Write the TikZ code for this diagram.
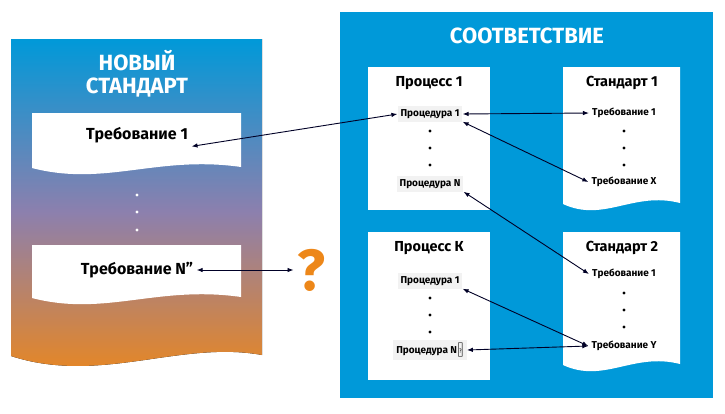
\documentclass[tikz,border=0pt]{standalone}
\usepackage{fontspec}
\setmainfont{Fira Sans}
\usetikzlibrary{arrows.meta}
\definecolor{panelblue}{rgb}{0.0, 0.60, 0.85}
\definecolor{qorange}{rgb}{0.93, 0.53, 0.10}
\definecolor{midpurple}{rgb}{0.55, 0.50, 0.68}

% page with wavy lower edge
\newcommand{\wavedoc}[5][white]{%
  \fill[#1] (#2,#3) -- (#4,#3) -- (#4,#5)
    .. controls ({#4-0.4*(#4-#2)},{#5-12}) and ({#2+0.35*(#4-#2)},{#5+20}) .. (#2,{#5+1}) -- cycle;}

\begin{document}
\begin{tikzpicture}[x=1pt,y=1pt,yscale=-1,
  title/.style={font=\bfseries\fontsize{14.5}{16}\selectfont},
  req/.style={font=\bfseries\fontsize{16}{18}\selectfont},
  proc/.style={font=\bfseries\fontsize{10}{12}\selectfont, fill=black!5, inner sep=3pt},
  dot/.style={circle, fill=#1, inner sep=0pt, minimum size=3.2pt},
  link/.style={{Latex[length=6pt]}-{Latex[length=6pt]}, line width=0.9pt, black!85!blue}]
		\useasboundingbox (0,0) rectangle (725,413);

		% Left panel (new standard)
		\fill[top color=panelblue, bottom color=qorange, middle color=midpurple, shading angle=0]
		(11,39) -- (262,39) -- (262,355)
		.. controls (180,340) and (100,385) .. (11,356) -- cycle;
		\node[white, font=\bfseries\fontsize{22}{23}\selectfont, align=center] (newstd) at (137,74) {НОВЫЙ\\СТАНДАРТ};
		\wavedoc{32}{113}{241}{167}
		\wavedoc{32}{245}{241}{297}
		\node[req] (nreq1) at (137,135) {Требование 1};
		\node[req] (nreqN) at (137,270) {Требование N”};
		\foreach \y in {195,212,230} \node[dot=white] at (137,\y) {};
		\node[qorange, font=\bfseries\fontsize{58}{58}\selectfont] (quest) at (311,270) {?};

		% Right panel (compliance)
		\fill[panelblue] (340,12) rectangle (713,398);
		\node[white, font=\bfseries\fontsize{22}{23}\selectfont] (match) at (527,36) {СООТВЕТСТВИЕ};

		% Process 1
		\fill[white] (368,67) rectangle (490,210);
		\node[title] (p1) at (429,83) {Процесс 1};
		\node[proc] (p1a) at (430,114) {Процедура 1};
		\node[proc] (p1n) at (430,184) {Процедура N};
		\foreach \y in {131,148,165} \node[dot=black] at (430,\y) {};

		% Process K
		\fill[white] (368,232) rectangle (490,380);
		\node[title] (pk) at (429,248) {Процесс К};
		\node[proc] (pka) at (430,281) {Процедура 1};
		\node[proc] (pkn) at (430,350) {Процедура N′};
		\foreach \y in {298,315,332} \node[dot=black] at (430,\y) {};

		% Standard 1
		\wavedoc{563}{67}{680}{203}
		\node[title] (s1) at (622,83) {Стандарт 1};
		\node[proc, fill=white] (s1a) at (624,113) {Требование 1};
		\node[proc, fill=white] (s1x) at (624,182) {Требование X};
		\foreach \y in {131,148,165} \node[dot=black] at (624,\y) {};

		% Standard 2
		\wavedoc{563}{232}{680}{364}
		\node[title] (s2) at (622,248) {Стандарт 2};
		\node[proc, fill=white] (s2a) at (624,274) {Требование 1};
		\node[proc, fill=white] (s2y) at (624,346) {Требование Y};
		\foreach \y in {293,310,327} \node[dot=black] at (624,\y) {};

		% Links
		\draw[link] (nreq1.south east) -- (p1a.west);
		\draw[link] (nreqN.east) -- (quest.west);
		\draw[link] (p1a.east) -- (s1a.west);
		\draw[link] (p1a.south east) -- (s1x.west);
		\draw[link] (p1n.south east) -- (s2a.west);
		\draw[link] (pka.south east) -- (s2y.west);
		\draw[link] (pkn.east) -- (s2y.west);
	\end{tikzpicture}
\end{document}
